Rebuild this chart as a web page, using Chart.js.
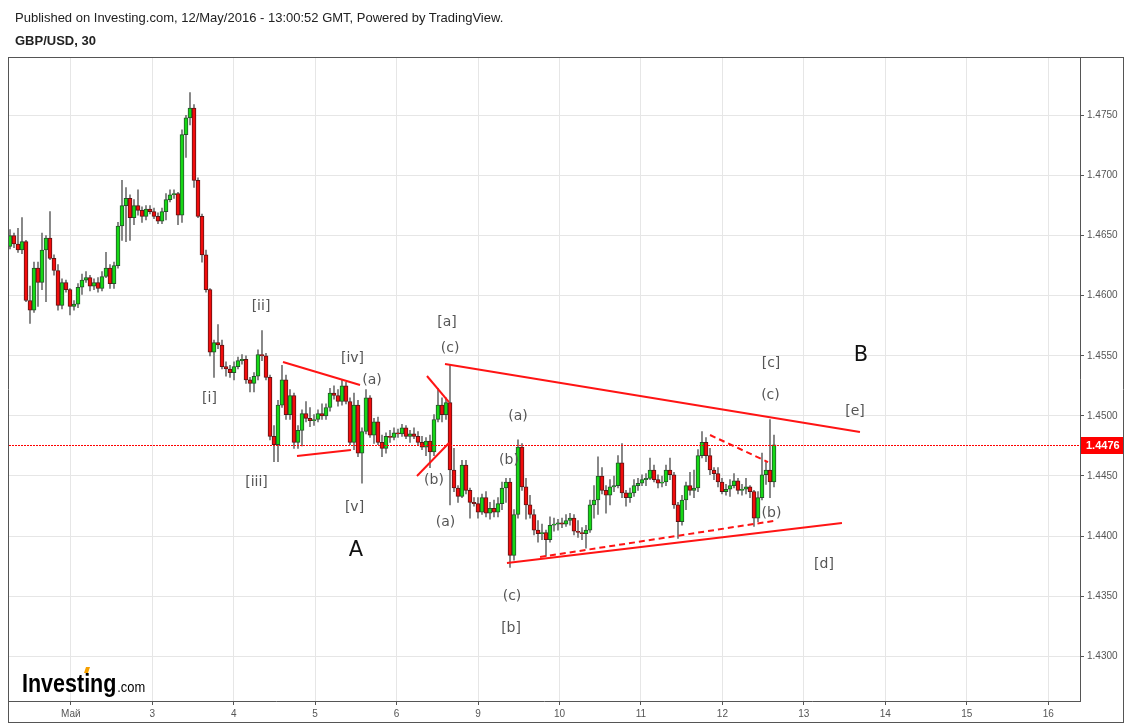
<!DOCTYPE html>
<html><head><meta charset="utf-8">
<script src="https://cdn.jsdelivr.net/npm/chart.js@4.4.0/dist/chart.umd.min.js"></script>
<style>
html,body{margin:0;padding:0;background:#fff;}
#wrap{position:relative;width:1131px;height:724px;overflow:hidden;}
#c{position:absolute;left:0;top:0;}
.hdr{position:absolute;left:15px;font-family:"Liberation Sans",Arial,sans-serif;font-size:13px;color:#222;white-space:nowrap;line-height:15px;}
</style></head><body>
<div id="wrap">
<canvas id="c" width="1131" height="724"></canvas>
<div class="hdr" style="top:10px">Published on Investing.com, 12/May/2016 - 13:00:52 GMT, Powered by TradingView.</div>
<div class="hdr" style="top:33px;font-weight:bold">GBP/USD, 30</div>
</div>
<script>
// ---- data (GBP/USD, 30) ----
const opens = [
1.4641,1.4650,1.4643,1.4638,1.4645,1.4596,1.4588,1.4623,1.4611,1.4638,
1.4648,1.4631,1.4621,1.4592,1.4611,1.4605,1.4591,1.4593,1.4607,1.4613,
1.4615,1.4608,1.4611,1.4606,1.4616,1.4623,1.4610,1.4625,1.4658,1.4675,
1.4681,1.4665,1.4675,1.4671,1.4666,1.4672,1.4670,1.4666,1.4662,1.4670,
1.4680,1.4684,1.4685,1.4667,1.4734,1.4748,1.4756,1.4696,1.4666,1.4634,
1.4605,1.4553,1.4561,1.4559,1.4541,1.4539,1.4536,1.4541,1.4546,1.4547,
1.4530,1.4527,1.4533,1.4551,1.4550,1.4532,1.4483,1.4476,1.4509,1.4530,
1.4501,1.4517,1.4478,1.4488,1.4502,1.4498,1.4496,1.4497,1.4502,1.4500,
1.4507,1.4519,1.4517,1.4512,1.4525,1.4512,1.4478,1.4509,1.4469,1.4487,
1.4515,1.4484,1.4495,1.4478,1.4473,1.4483,1.4482,1.4486,1.4485,1.4490,
1.4483,1.4485,1.4483,1.4478,1.4474,1.4479,1.4470,1.4497,1.4509,1.4501,
1.4511,1.4455,1.4440,1.4433,1.4459,1.4438,1.4428,1.4427,1.4420,1.4432,
1.4419,1.4423,1.4420,1.4427,1.4440,1.4445,1.4384,1.4418,1.4474,1.4441,
1.4426,1.4418,1.4405,1.4402,1.4403,1.4397,1.4409,1.4410,1.4411,1.4410,
1.4413,1.4415,1.4404,1.4403,1.4402,1.4405,1.4426,1.4430,1.4450,1.4438,
1.4434,1.4441,1.4442,1.4461,1.4436,1.4432,1.4436,1.4442,1.4444,1.4447,
1.4448,1.4455,1.4447,1.4444,1.4445,1.4455,1.4451,1.4426,1.4412,1.4430,
1.4442,1.4438,1.4440,1.4467,1.4478,1.4467,1.4455,1.4452,1.4445,1.4437,
1.4439,1.4442,1.4446,1.4438,1.4439,1.4441,1.4437,1.4415,1.4432,1.4451,
1.4455,1.4445];
const highs = [
1.4655,1.4652,1.4656,1.4665,1.4646,1.4608,1.4628,1.4628,1.4652,1.4650,
1.4670,1.4634,1.4626,1.4614,1.4613,1.4606,1.4596,1.4610,1.4618,1.4620,
1.4617,1.4614,1.4615,1.4620,1.4636,1.4626,1.4628,1.4661,1.4696,1.4690,
1.4684,1.4680,1.4688,1.4674,1.4675,1.4675,1.4673,1.4669,1.4673,1.4685,
1.4688,1.4688,1.4686,1.4738,1.4750,1.4769,1.4759,1.4698,1.4668,1.4638,
1.4606,1.4563,1.4576,1.4563,1.4545,1.4542,1.4545,1.4549,1.4551,1.4550,
1.4532,1.4536,1.4555,1.4571,1.4552,1.4534,1.4492,1.4513,1.4542,1.4534,
1.4522,1.4519,1.4492,1.4505,1.4512,1.4507,1.4501,1.4505,1.4510,1.4510,
1.4523,1.4525,1.4522,1.4530,1.4528,1.4515,1.4519,1.4513,1.4490,1.4522,
1.4517,1.4498,1.4499,1.4484,1.4486,1.4488,1.4490,1.4489,1.4493,1.4492,
1.4488,1.4490,1.4487,1.4483,1.4482,1.4484,1.4501,1.4523,1.4515,1.4515,
1.4542,1.4473,1.4442,1.4463,1.4463,1.4440,1.4432,1.4432,1.4435,1.4437,
1.4428,1.4430,1.4432,1.4445,1.4448,1.4448,1.4422,1.4480,1.4477,1.4448,
1.4434,1.4422,1.4413,1.4410,1.4405,1.4416,1.4415,1.4414,1.4415,1.4418,
1.4419,1.4418,1.4413,1.4407,1.4409,1.4430,1.4442,1.4466,1.4457,1.4442,
1.4447,1.4450,1.4467,1.4477,1.4438,1.4440,1.4447,1.4448,1.4451,1.4452,
1.4465,1.4459,1.4451,1.4450,1.4459,1.4465,1.4453,1.4428,1.4434,1.4445,
1.4453,1.4455,1.4472,1.4487,1.4482,1.4473,1.4457,1.4457,1.4448,1.4443,
1.4447,1.4452,1.4448,1.4443,1.4448,1.4442,1.4438,1.4437,1.4469,1.4462,
1.4497,1.4484];
const lows = [
1.4639,1.4640,1.4636,1.4635,1.4595,1.4577,1.4586,1.4591,1.4605,1.4595,
1.4630,1.4617,1.4588,1.4589,1.4603,1.4584,1.4588,1.4590,1.4601,1.4611,
1.4604,1.4605,1.4603,1.4604,1.4615,1.4606,1.4606,1.4623,1.4646,1.4645,
1.4646,1.4659,1.4667,1.4661,1.4663,1.4668,1.4664,1.4660,1.4660,1.4663,
1.4678,1.4681,1.4659,1.4661,1.4715,1.4742,1.4690,1.4665,1.4628,1.4603,
1.4550,1.4532,1.4556,1.4539,1.4533,1.4532,1.4530,1.4539,1.4543,1.4527,
1.4520,1.4520,1.4530,1.4546,1.4530,1.4480,1.4462,1.4462,1.4507,1.4497,
1.4497,1.4473,1.4473,1.4475,1.4495,1.4491,1.4492,1.4495,1.4497,1.4497,
1.4504,1.4514,1.4508,1.4509,1.4510,1.4476,1.4472,1.4466,1.4444,1.4485,
1.4482,1.4477,1.4476,1.4466,1.4469,1.4478,1.4480,1.4482,1.4483,1.4481,
1.4478,1.4481,1.4476,1.4472,1.4467,1.4457,1.4467,1.4495,1.4495,1.4497,
1.4426,1.4437,1.4428,1.4432,1.4435,1.4415,1.4425,1.4415,1.4418,1.4416,
1.4414,1.4416,1.4416,1.4422,1.4428,1.4374,1.4380,1.4415,1.4438,1.4414,
1.4415,1.4401,1.4395,1.4397,1.4383,1.4395,1.4404,1.4405,1.4407,1.4408,
1.4409,1.4401,1.4399,1.4397,1.4390,1.4403,1.4415,1.4418,1.4435,1.4419,
1.4426,1.4437,1.4440,1.4432,1.4425,1.4428,1.4433,1.4438,1.4442,1.4442,
1.4447,1.4445,1.4440,1.4441,1.4442,1.4447,1.4423,1.4398,1.4409,1.4422,
1.4434,1.4432,1.4437,1.4465,1.4462,1.4451,1.4447,1.4441,1.4435,1.4434,
1.4433,1.4440,1.4435,1.4434,1.4435,1.4432,1.4408,1.4412,1.4430,1.4443,
1.4432,1.4441];
const closes = [
1.4650,1.4643,1.4638,1.4645,1.4596,1.4588,1.4623,1.4611,1.4638,1.4648,
1.4631,1.4621,1.4592,1.4611,1.4605,1.4591,1.4593,1.4607,1.4613,1.4615,
1.4608,1.4611,1.4606,1.4616,1.4623,1.4610,1.4625,1.4658,1.4675,1.4681,
1.4665,1.4675,1.4671,1.4666,1.4672,1.4670,1.4666,1.4662,1.4670,1.4680,
1.4684,1.4685,1.4667,1.4734,1.4748,1.4756,1.4696,1.4666,1.4634,1.4605,
1.4553,1.4561,1.4559,1.4541,1.4539,1.4536,1.4541,1.4546,1.4547,1.4530,
1.4527,1.4533,1.4551,1.4550,1.4532,1.4483,1.4476,1.4509,1.4530,1.4501,
1.4517,1.4478,1.4488,1.4502,1.4498,1.4496,1.4497,1.4502,1.4500,1.4507,
1.4519,1.4517,1.4512,1.4525,1.4512,1.4478,1.4509,1.4469,1.4487,1.4515,
1.4484,1.4495,1.4478,1.4473,1.4483,1.4482,1.4486,1.4485,1.4490,1.4483,
1.4485,1.4483,1.4478,1.4474,1.4479,1.4470,1.4497,1.4509,1.4501,1.4511,
1.4455,1.4440,1.4433,1.4459,1.4438,1.4428,1.4427,1.4420,1.4432,1.4419,
1.4423,1.4420,1.4427,1.4440,1.4445,1.4384,1.4418,1.4474,1.4441,1.4426,
1.4418,1.4405,1.4402,1.4403,1.4397,1.4409,1.4410,1.4411,1.4410,1.4413,
1.4415,1.4404,1.4403,1.4402,1.4405,1.4426,1.4430,1.4450,1.4438,1.4434,
1.4441,1.4442,1.4461,1.4436,1.4432,1.4436,1.4442,1.4444,1.4447,1.4448,
1.4455,1.4447,1.4444,1.4445,1.4455,1.4451,1.4426,1.4412,1.4430,1.4442,
1.4438,1.4440,1.4467,1.4478,1.4467,1.4455,1.4452,1.4445,1.4437,1.4439,
1.4442,1.4446,1.4438,1.4439,1.4441,1.4437,1.4415,1.4432,1.4451,1.4455,
1.4445,1.4476];

// time axis: day units (0 = Май), bars of 30 min as drawn
const firstBarDay = -0.7465;
const barsPerDay = 20.3625;
const dayTicks = [0,1,2,3,4,5,6,7,8,9,10,11,12];
const dayLabels = ['Май','3','4','5','6','9','10','11','12','13','14','15','16'];
const priceTicks = [1.4300,1.4350,1.4400,1.4450,1.4500,1.4550,1.4600,1.4650,1.4700,1.4750];
const lastPrice = 1.4476;
const xMin = -0.77102, xMax = 12.39042;
const yMin = 1.42628, yMax = 1.47986;

// wave-count drawings (day, price)
const solidLines = [
  [2.605,1.45448,3.551,1.45257],
  [2.777,1.44666,3.440,1.44716],
  [4.373,1.45332,4.643,1.45115],
  [4.250,1.44500,4.643,1.44774],
  [4.594,1.45432,9.689,1.44866],
  [5.355,1.43776,9.468,1.44109]
];
const dashedLines = [
  [5.761,1.43826,8.658,1.44129],
  [7.848,1.44841,8.560,1.44616]
];
const waveLabels = [
  ['[ii]',2.335,1.45914],['[i]',1.703,1.45149],['[iii]',2.280,1.44450],
  ['[iv]',3.459,1.45481],['(a)',3.698,1.45298],['[v]',3.483,1.44242],
  ['[a]',4.619,1.45781],['(c)',4.656,1.45565],['(b)',4.459,1.44466],['(a)',4.600,1.44117],
  ['(a)',5.490,1.45000],['(b)',5.380,1.44633],['(c)',5.417,1.43501],['[b]',5.405,1.43235],
  ['[c]',8.597,1.45436],['(c)',8.590,1.45170],['[e]',9.628,1.45036],['(b)',8.603,1.44188],['[d]',9.247,1.43768]
];
const bigLabels = [['A',3.502,1.43876],['B',9.702,1.45502]];

// ---- chart ----
const barX = i => firstBarDay + i / barsPerDay;
const bodyData = opens.map((o, i) => ({x: barX(i), y: [o, closes[i]]}));
const wickData = highs.map((h, i) => ({x: barX(i), y: [lows[i], h]}));
const isUp = i => closes[i] >= opens[i];

const FONT = '"Liberation Sans", Arial, sans-serif';

const overlay = {
  id: 'overlay',
  beforeDraw(chart) {
    const c = chart.ctx;
    c.save(); c.fillStyle = '#fff'; c.fillRect(0, 0, chart.width, chart.height); c.restore();
  },
  afterDatasetsDraw(chart) {
    const c = chart.ctx, a = chart.chartArea;
    const X = v => chart.scales.x.getPixelForValue(v);
    const Y = v => chart.scales.y.getPixelForValue(v);
    c.save();
    c.beginPath(); c.rect(a.left, a.top, a.right - a.left, a.bottom - a.top); c.clip();
    // logo
    c.save();
    c.fillStyle = '#000';
    c.textBaseline = 'alphabetic';
    c.translate(22, 692);
    c.scale(0.86, 1);
    c.font = 'bold 25px ' + FONT;
    c.fillText('Investing', 0, 0);
    const w = c.measureText('Investing').width;
    c.font = '15px ' + FONT;
    c.fillText('.com', w + 1, 0);
    c.restore();
    c.fillStyle = '#f5a000';
    c.beginPath(); c.moveTo(86, 667); c.lineTo(90, 667); c.lineTo(88, 673); c.lineTo(84, 673); c.closePath(); c.fill();
    // last price dotted line (red dots)
    const py = Math.round(Y(lastPrice));
    c.fillStyle = '#ff0000';
    for (let x = Math.round(a.left) + 1; x < a.right; x += 3) c.fillRect(x, py, 2, 1);
    // trend lines
    c.lineWidth = 2; c.strokeStyle = '#ff1414';
    solidLines.forEach(l => { c.beginPath(); c.moveTo(X(l[0]), Y(l[1])); c.lineTo(X(l[2]), Y(l[3])); c.stroke(); });
    c.setLineDash([6, 4]);
    dashedLines.forEach(l => { c.beginPath(); c.moveTo(X(l[0]), Y(l[1])); c.lineTo(X(l[2]), Y(l[3])); c.stroke(); });
    c.setLineDash([]);
    // labels
    c.textAlign = 'center'; c.textBaseline = 'middle';
    c.font = '14px "DejaVu Sans"'; c.fillStyle = '#555';
    waveLabels.forEach(([t, d, p]) => c.fillText(t, X(d), Y(p)));
    c.font = '21px "DejaVu Sans"'; c.fillStyle = '#111';
    bigLabels.forEach(([t, d, p]) => c.fillText(t, X(d), Y(p)));
    c.restore();
  },
  afterDraw(chart) {
    const c = chart.ctx, a = chart.chartArea;
    const Y = v => chart.scales.y.getPixelForValue(v);
    c.save();
    c.strokeStyle = '#555'; c.lineWidth = 1;
    c.beginPath();
    c.moveTo(a.left + 0.5, a.top); c.lineTo(a.left + 0.5, 722);
    c.moveTo(a.left, a.top + 0.5); c.lineTo(1124, a.top + 0.5);
    c.moveTo(1123.5, a.top); c.lineTo(1123.5, 722);
    c.moveTo(a.left, 722.5); c.lineTo(1124, 722.5);
    c.stroke();
    // price tag
    const py = Math.round(Y(lastPrice));
    c.fillStyle = '#ff0000';
    c.fillRect(a.right + 1, py - 8, 1123 - a.right - 1, 17);
    c.fillStyle = '#fff'; c.font = 'bold 11px ' + FONT;
    c.textAlign = 'left'; c.textBaseline = 'middle';
    c.fillText(lastPrice.toFixed(4), a.right + 6, py + 1);
    c.restore();
  }
};

new Chart(document.getElementById('c'), {
  type: 'bar',
  data: {
    datasets: [
      {
        data: bodyData, grouped: false, barThickness: 4, minBarLength: 1,
        borderWidth: 1, borderSkipped: false,
        backgroundColor: ctx => isUp(ctx.dataIndex) ? '#16d816' : '#f20c0c',
        borderColor: ctx => isUp(ctx.dataIndex) ? '#24532a' : '#5e1414',
        order: 1
      },
      {
        data: wickData, grouped: false, barThickness: 1,
        backgroundColor: '#707070', borderWidth: 0, order: 2
      }
    ]
  },
  options: {
    responsive: false, animation: false, devicePixelRatio: 1, events: [],
    layout: { padding: { left: 8, top: 57, right: 8, bottom: 2 }, autoPadding: false },
    plugins: { legend: { display: false }, tooltip: { enabled: false } },
    scales: {
      x: {
        type: 'linear', min: xMin, max: xMax, offset: false,
        afterBuildTicks: s => { s.ticks = dayTicks.map(v => ({ value: v })); },
        afterFit: s => { s.height = 21; },
        ticks: { autoSkip: false, maxRotation: 0, padding: 3, color: '#555',
          font: { family: FONT, size: 10 }, callback: (v, i) => dayLabels[i] },
        grid: { offset: false, color: '#e6e6e6', tickColor: '#555', tickLength: 4 },
        border: { color: '#555' }
      },
      y: {
        type: 'linear', position: 'right', min: yMin, max: yMax,
        afterBuildTicks: s => { s.ticks = priceTicks.map(v => ({ value: v })); },
        afterFit: s => { s.width = 43; },
        ticks: { padding: 3, color: '#555', font: { family: FONT, size: 10 },
          callback: v => Number(v).toFixed(4) },
        grid: { offset: false, color: '#e6e6e6', tickColor: '#555', tickLength: 4 },
        border: { color: '#555' }
      }
    }
  },
  plugins: [overlay]
});
</script>
</body></html>
